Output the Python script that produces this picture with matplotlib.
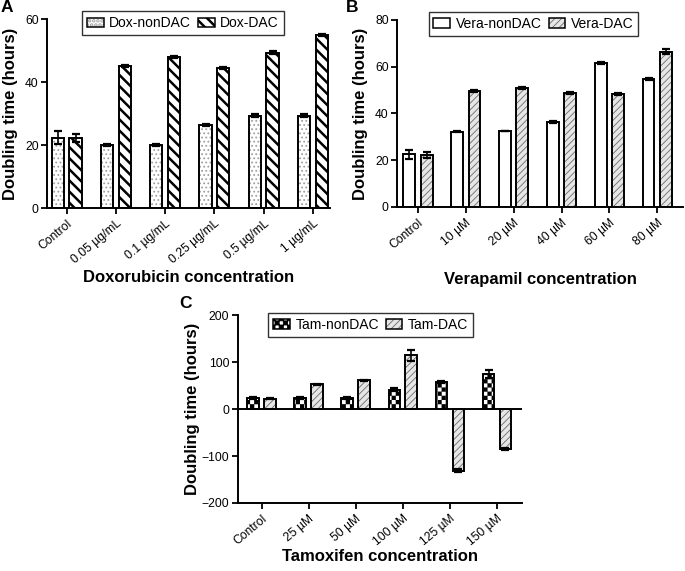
import warnings
import numpy as np
import matplotlib
matplotlib.use("Agg")
import matplotlib.pyplot as plt
import matplotlib.transforms as mtrans
from matplotlib import hatch as mhatch
from matplotlib.path import Path
from matplotlib.patches import Patch

warnings.filterwarnings("ignore")

# ---- data ----
dox_labels = ["Control", "0.05 µg/mL", "0.1 µg/mL", "0.25 µg/mL", "0.5 µg/mL", "1 µg/mL"]
dox_nondac = [22.3, 20.0, 20.0, 26.3, 29.3, 29.3]
dox_nondac_err = [2.0, 0.3, 0.2, 0.4, 0.5, 0.5]
dox_dac = [22.2, 45.2, 48.0, 44.5, 49.3, 54.8]
dox_dac_err = [1.2, 0.3, 0.4, 0.3, 0.4, 0.3]

vera_labels = ["Control", "10 µM", "20 µM", "40 µM", "60 µM", "80 µM"]
vera_nondac = [22.5, 32.2, 32.5, 36.3, 61.5, 54.7]
vera_nondac_err = [1.8, 0.3, 0.2, 0.3, 0.4, 0.5]
vera_dac = [22.3, 49.5, 50.8, 48.7, 48.3, 66.5]
vera_dac_err = [1.2, 0.4, 0.5, 0.4, 0.4, 0.9]

tam_labels = ["Control", "25 µM", "50 µM", "100 µM", "125 µM", "150 µM"]
tam_nondac = [23.0, 23.0, 23.0, 41.0, 58.0, 75.0]
tam_nondac_err = [2.0, 1.5, 1.5, 3.0, 2.0, 8.0]
tam_dac = [22.0, 53.0, 61.0, 114.0, -131.0, -85.0]
tam_dac_err = [1.0, 1.0, 1.0, 12.0, 3.0, 2.0]


# checkerboard hatch ('#') since matplotlib has none built in
class CheckerHatch(mhatch.HatchPatternBase):
    def __init__(self, hatch, density):
        self.n = hatch.count("#") * density
        self.num_vertices = 5 * (self.n * self.n // 2) if self.n else 0

    def set_vertices_and_codes(self, vertices, codes):
        s = 1.0 / self.n
        k = 0
        for i in range(self.n):
            for j in range(self.n):
                if (i + j) % 2 == 0:
                    x0, y0 = i * s, j * s
                    vertices[k:k + 5] = [[x0, y0], [x0 + s, y0], [x0 + s, y0 + s],
                                         [x0, y0 + s], [x0, y0]]
                    codes[k:k + 5] = [Path.MOVETO, Path.LINETO, Path.LINETO,
                                      Path.LINETO, Path.CLOSEPOLY]
                    k += 5


mhatch._hatch_types.append(CheckerHatch)

plt.rcParams["font.family"] = ["Liberation Sans", "DejaVu Sans"]
plt.rcParams["axes.unicode_minus"] = True

fig = plt.figure(figsize=(6.85, 5.71), dpi=100)

W = 0.25
OFF = 0.18


def styled_bars(ax, x, vals, face, hatch, hcolor, hlw):
    plt.rcParams["hatch.linewidth"] = hlw
    bars = ax.bar(x, vals, W, color=face, hatch=hatch, edgecolor=hcolor, linewidth=0, zorder=2)
    for b in bars:
        if hasattr(b, "set_hatch_linewidth"):
            b.set_hatch_linewidth(hlw)
    ax.bar(x, vals, W, fill=False, edgecolor="black", linewidth=1.4, zorder=3)
    h1 = Patch(facecolor=face, hatch=hatch, edgecolor=hcolor, linewidth=0)
    if hasattr(h1, "set_hatch_linewidth"):
        h1.set_hatch_linewidth(hlw)
    h2 = Patch(fill=False, edgecolor="black", linewidth=1.1)
    return (h1, h2)


def panel(rect, labels, v1, e1, v2, e2, s1, s2, names, ylim, yticks, xlabel, letter,
          xlim, leg_anchor, xlab_y, ylab_x, letter_xy, zero_line=False):
    ax = fig.add_axes(rect)
    x = np.arange(len(labels))
    h1 = styled_bars(ax, x - OFF, v1, *s1)
    h2 = styled_bars(ax, x + OFF, v2, *s2)
    ax.errorbar(x - OFF, v1, yerr=e1, fmt="none", ecolor="black", elinewidth=1.2,
                capsize=3, capthick=1.6, zorder=4)
    ax.errorbar(x + OFF, v2, yerr=e2, fmt="none", ecolor="black", elinewidth=1.2,
                capsize=3, capthick=1.6, zorder=4)
    if zero_line:
        ax.axhline(0, color="black", linewidth=1.4, zorder=5)
    ax.set_ylim(*ylim)
    ax.set_yticks(yticks)
    ax.set_xlim(*xlim)
    ax.set_xticks(x)
    ax.set_xticklabels(labels, rotation=40, ha="right", rotation_mode="anchor", fontsize=8.7)
    shift = mtrans.ScaledTranslation(0.035, 0, fig.dpi_scale_trans)
    for lab in ax.get_xticklabels():
        lab.set_transform(lab.get_transform() + shift)
    ax.tick_params(axis="y", labelsize=8.7, pad=2)
    ax.tick_params(axis="x", pad=3)
    ax.tick_params(width=1.3, length=4, direction="out")
    for sp in ["top", "right"]:
        ax.spines[sp].set_visible(False)
    for sp in ["left", "bottom"]:
        ax.spines[sp].set_linewidth(1.4)
    ax.set_ylabel("Doubling time (hours)", fontsize=12, fontweight="bold")
    ax.yaxis.set_label_coords(ylab_x, 0.5)
    ax.set_xlabel(xlabel, fontsize=12, fontweight="bold", va="center")
    ax.xaxis.set_label_coords(0.5, xlab_y)
    leg = ax.legend([h1, h2], names, loc="upper center", bbox_to_anchor=leg_anchor, ncol=2,
                    fontsize=10, frameon=True, fancybox=False, edgecolor="black",
                    borderpad=0.35, handlelength=1.2, handleheight=0.65,
                    handletextpad=0.4, columnspacing=0.5, borderaxespad=0)
    leg.get_frame().set_linewidth(1.0)
    fig.text(letter_xy[0] / 685, 1 - letter_xy[1] / 571, letter, fontsize=12.5,
             fontweight="bold", ha="center", va="center")
    return ax


panel([0.0686, 0.6357, 0.4134, 0.331], dox_labels, dox_nondac, dox_nondac_err,
      dox_dac, dox_dac_err,
      ("white", "....", "#a0a0a0", 0.8), ("white", "\\\\\\", "black", 1.8),
      ["Dox-nonDAC", "Dox-DAC"], (0, 60), [0, 20, 40, 60],
      "Doxorubicin concentration", "A", (-0.4, 5.35), (0.48, 1.04),
      -0.365, -0.102, (7, 8))

panel([0.5796, 0.6375, 0.4174, 0.3275], vera_labels, vera_nondac, vera_nondac_err,
      vera_dac, vera_dac_err,
      ("white", None, "black", 1.0), ("#e6e6e6", "/////", "#6a6a6a", 0.6),
      ["Vera-nonDAC", "Vera-DAC"], (0, 80), [0, 20, 40, 60, 80],
      "Verapamil concentration", "B", (-0.44, 5.54), (0.477, 1.043),
      -0.39, -0.101, (352, 8))

panel([0.347, 0.1191, 0.415, 0.3292], tam_labels, tam_nondac, tam_nondac_err,
      tam_dac, tam_dac_err,
      ("white", "####", "black", 0.1), ("#e6e6e6", "/////", "#6a6a6a", 0.6),
      ["Tam-nonDAC", "Tam-DAC"], (-200, 200), [-200, -100, 0, 100, 200],
      "Tamoxifen concentration", "C", (-0.51, 5.53), (0.468, 1.01),
      -0.287, -0.134, (186, 303), zero_line=True)

fig.savefig("out.png", dpi=100)
